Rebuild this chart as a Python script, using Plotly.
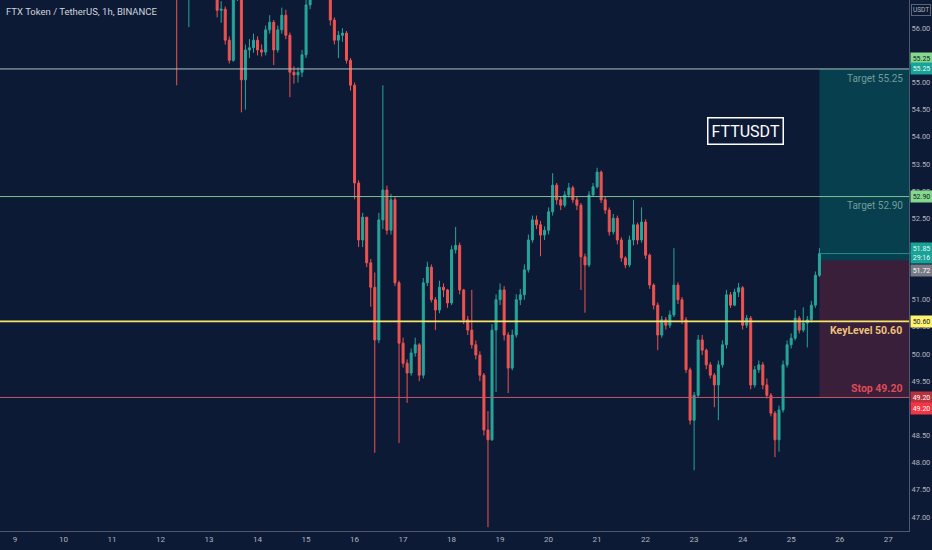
import plotly.graph_objects as go
import pandas as pd

# ---------------- data ----------------
start_time = "2021-09-12 06:00"   # 2-hour candles
first_open = 57.00
closes = [57.20, 56.90, 57.00, 57.10, 57.30, 57.40, 57.20, 57.00, 56.90, 56.80,
          56.70, 56.33, 56.35, 55.78, 55.41, 56.60, 56.70, 55.05, 55.60, 55.64,
          55.78, 55.60, 55.56, 55.97, 56.11, 55.60, 55.97, 56.24, 55.87, 55.19,
          55.14, 55.19, 55.51, 56.43, 56.80, 57.00, 57.10, 57.00, 56.90, 56.15,
          55.78, 55.87, 55.91, 55.41, 54.95, 53.15, 52.10, 52.52, 51.68, 51.23,
          50.26, 52.47, 53.02, 52.28, 52.84, 51.31, 50.20, 49.83, 49.65, 50.02,
          50.17, 49.61, 51.31, 51.60, 51.00, 50.81, 51.23, 51.18, 50.94, 51.92,
          52.00, 51.18, 50.63, 50.44, 50.17, 49.98, 49.61, 48.60, 48.42, 50.44,
          51.00, 51.18, 50.35, 49.74, 50.35, 51.00, 51.09, 51.55, 52.10, 52.47,
          52.38, 52.19, 52.28, 52.62, 53.11, 52.84, 52.74, 52.93, 53.06, 52.84,
          52.74, 51.79, 51.64, 52.93, 53.08, 53.35, 52.84, 52.65, 52.25, 52.50,
          52.10, 51.77, 51.64, 52.10, 52.38, 52.10, 52.43, 51.82, 51.27, 50.90,
          50.35, 50.63, 50.53, 50.72, 51.27, 51.00, 50.63, 49.71, 48.78, 49.24,
          50.26, 50.07, 49.80, 49.61, 49.43, 49.80, 50.17, 51.09, 50.90, 51.14,
          51.22, 50.53, 50.66, 49.43, 49.71, 49.80, 49.43, 49.24, 48.91, 48.42,
          48.97, 49.80, 50.17, 50.29, 50.66, 50.44, 50.57, 50.63, 50.90, 51.45,
          51.85]
highs = [57.45, 57.30, 57.20, 57.30, 57.50, 57.60, 57.50, 57.30, 57.10, 57.00,
         56.90, 56.75, 56.50, 56.40, 55.85, 56.80, 56.90, 56.80, 55.70, 55.80,
         55.90, 55.85, 55.70, 56.05, 56.24, 56.15, 56.05, 56.38, 56.34, 55.92,
         55.30, 55.28, 55.60, 56.55, 57.00, 57.20, 57.30, 57.25, 57.10, 56.95,
         56.20, 55.95, 56.00, 55.95, 55.45, 55.00, 53.20, 52.60, 52.52, 51.75,
         51.50, 52.60, 54.95, 53.10, 52.95, 52.90, 51.35, 50.30, 49.90, 50.10,
         50.30, 50.20, 51.40, 51.70, 51.65, 51.05, 51.35, 51.30, 51.20, 52.00,
         52.34, 52.05, 51.20, 50.70, 51.18, 50.25, 50.05, 49.65, 48.95, 50.55,
         51.10, 51.30, 51.25, 50.40, 50.45, 51.10, 51.20, 51.65, 52.20, 52.55,
         52.55, 52.45, 52.35, 52.70, 53.33, 53.15, 52.90, 53.00, 53.15, 53.10,
         52.90, 52.78, 51.85, 53.00, 53.15, 53.43, 53.38, 52.90, 52.70, 52.58,
         52.55, 52.15, 51.80, 52.18, 52.84, 52.42, 52.70, 52.48, 51.85, 51.30,
         50.95, 50.70, 50.68, 50.80, 51.95, 51.32, 51.05, 50.68, 49.75, 49.30,
         50.35, 50.35, 50.10, 49.85, 49.65, 49.88, 50.25, 51.18, 51.14, 51.20,
         51.31, 51.25, 50.72, 50.70, 49.78, 49.88, 49.85, 49.55, 49.28, 48.95,
         49.05, 49.88, 50.25, 50.38, 50.81, 50.70, 50.86, 50.70, 50.98, 51.52,
         51.95]
lows = [56.90, 54.95, 56.75, 56.85, 56.02, 57.15, 57.05, 56.85, 56.75, 56.65,
        56.55, 56.20, 56.10, 55.70, 55.35, 55.38, 56.50, 54.45, 54.50, 55.45,
        55.55, 55.50, 55.48, 55.50, 55.90, 55.32, 55.55, 55.90, 55.80, 54.73,
        54.98, 55.00, 55.10, 55.45, 56.35, 56.70, 56.90, 56.85, 56.75, 56.05,
        55.70, 55.45, 55.75, 55.35, 54.85, 52.85, 51.97, 51.97, 51.60, 50.87,
        48.18, 50.20, 52.30, 52.20, 52.20, 51.25, 48.36, 49.75, 49.10, 49.60,
        49.95, 49.50, 49.55, 51.25, 50.95, 50.44, 50.75, 51.05, 50.85, 50.90,
        51.85, 51.10, 50.55, 50.35, 50.10, 49.90, 49.50, 48.50, 46.81, 48.40,
        49.30, 50.90, 50.25, 49.28, 49.70, 50.30, 50.90, 51.00, 51.50, 52.05,
        52.30, 51.80, 52.10, 52.20, 52.55, 52.75, 52.65, 52.70, 52.88, 52.78,
        52.65, 51.18, 50.76, 51.60, 52.90, 53.05, 52.78, 52.58, 52.18, 52.20,
        52.02, 51.70, 51.58, 51.60, 52.00, 52.02, 52.05, 51.75, 51.20, 50.82,
        50.07, 50.30, 50.45, 50.48, 50.68, 50.92, 50.55, 49.65, 48.70, 47.86,
        49.20, 49.98, 49.72, 49.55, 49.02, 48.78, 49.75, 50.10, 50.85, 50.88,
        51.05, 50.45, 50.48, 49.35, 49.38, 49.65, 49.35, 49.18, 48.85, 48.10,
        48.20, 48.92, 49.75, 50.10, 50.25, 50.38, 50.40, 50.12, 50.58, 50.85,
        51.42]

target_hi = 55.25
target_lo = 52.90
key_level = 50.60
stop_level = 49.20
entry_level = 51.72
last_price = 51.85
countdown = "29:16"

day_ticks = list(range(9, 28))
y_ticks = [47.0, 47.5, 48.0, 48.5, 49.0, 49.5, 50.0, 50.5, 51.0, 51.5,
           52.0, 52.5, 53.0, 53.5, 54.0, 54.5, 55.0, 55.5, 56.0, 56.5]

# ---------------- build ----------------
times = pd.date_range(start=start_time, periods=len(closes), freq="2h")
opens = [first_open] + closes[:-1]
tick_times = [pd.Timestamp(2021, 9, d) for d in day_ticks]

BG = "#0c1a36"
TXT = "#b2b5be"
UP = "#26a69a"
DN = "#ef5350"

fig = go.Figure()
fig.add_trace(go.Candlestick(
    x=times, open=opens, high=highs, low=lows, close=closes,
    increasing=dict(line=dict(color=UP, width=1), fillcolor=UP),
    decreasing=dict(line=dict(color=DN, width=1), fillcolor=DN),
    whiskerwidth=0, hoverinfo="skip", showlegend=False,
))

x_left = pd.Timestamp("2021-09-08 16:34")
x_right = pd.Timestamp("2021-09-27 10:19")
box_x0 = times[-1]

shapes = []
# position tool boxes
shapes.append(dict(type="rect", xref="x", yref="y", x0=box_x0, x1=x_right,
                   y0=entry_level, y1=target_hi, fillcolor="rgba(0,150,136,0.30)",
                   line=dict(width=0), layer="below"))
shapes.append(dict(type="rect", xref="x", yref="y", x0=box_x0, x1=x_right,
                   y0=stop_level, y1=entry_level, fillcolor="rgba(242,54,69,0.20)",
                   line=dict(width=0), layer="below"))
shapes.append(dict(type="line", xref="x", yref="y", x0=box_x0, x1=x_right,
                   y0=last_price, y1=last_price, line=dict(color="#1f8f86", width=1)))
# horizontal levels
level_styles = [
    (target_hi, "#a9c3bd", 1),
    (target_lo, "#7fbf8e", 1),
    (key_level, "#f5e66a", 1.8),
    (stop_level, "#c9566b", 1),
]
for lv, col, w in level_styles:
    shapes.append(dict(type="line", xref="paper", yref="y", x0=0, x1=1,
                       y0=lv, y1=lv, line=dict(color=col, width=w)))

ann = []
ann.append(dict(text="FTX Token / TetherUS, 1h, BINANCE", xref="paper", yref="paper",
                x=0.004, y=0.978, xanchor="left", yanchor="middle", showarrow=False,
                font=dict(size=9.5, color="#d1d4dc", family="Roboto")))
ann.append(dict(text="FTTUSDT", xref="paper", yref="paper", x=0.8205, y=0.753,
                xanchor="center", yanchor="middle", showarrow=False,
                font=dict(size=16, color="#ffffff", family="Roboto"),
                bordercolor="#ffffff", borderwidth=1.5, borderpad=3))
# in-chart level labels
ann.append(dict(text="Target 55.25", xref="paper", yref="y", x=0.996, y=target_hi,
                xanchor="right", yanchor="top", yshift=-2, showarrow=False,
                font=dict(size=10, color="#6f9d99", family="Roboto")))
ann.append(dict(text="Target 52.90", xref="paper", yref="y", x=0.996, y=target_lo,
                xanchor="right", yanchor="top", yshift=-1, showarrow=False,
                font=dict(size=10, color="#6f9d99", family="Roboto")))
ann.append(dict(text="<b>KeyLevel 50.60</b>", xref="paper", yref="y", x=0.995, y=key_level,
                xanchor="right", yanchor="top", yshift=-1, showarrow=False,
                font=dict(size=10.5, color="#efc27c", family="Roboto")))
ann.append(dict(text="<b>Stop 49.20</b>", xref="paper", yref="y", x=0.995, y=stop_level,
                xanchor="right", yanchor="bottom", yshift=0, showarrow=False,
                font=dict(size=10.5, color="#df4b57", family="Roboto")))

# right-axis price labels
def axis_label(txt, y, bg, fg, shift=0):
    ann.append(dict(text=txt, xref="paper", yref="y", x=1, y=y, xanchor="left",
                    yanchor="middle", xshift=1, yshift=shift, showarrow=False,
                    bgcolor=bg, font=dict(size=7, color=fg, family="Roboto"),
                    borderpad=1, width=19, height=9, align="center"))

axis_label("55.25", target_hi, "#86d98b", "#0c1a36", shift=10)
axis_label("55.25", target_hi, "#17a398", "#e8f5f3")
axis_label("52.90", target_lo, "#86d98b", "#0c1a36")
axis_label(f"{last_price:.2f}", last_price, "#17a398", "#e8f5f3", shift=5)
axis_label(countdown, last_price, "#17a398", "#e8f5f3", shift=-4)
axis_label(f"{entry_level:.2f}", entry_level, "#787b86", "#ffffff", shift=-10)
axis_label("50.60", key_level, "#fff36e", "#0c1a36")
axis_label("49.20", stop_level, "#b8323d", "#ffffff")
axis_label("49.20", stop_level, "#f23645", "#ffffff", shift=-11)
ann.append(dict(text="USDT", xref="paper", yref="paper", x=1, y=0.982, xanchor="left",
                yanchor="middle", xshift=2, showarrow=False, bgcolor=BG,
                bordercolor="#5d6473", borderwidth=1, borderpad=1,
                font=dict(size=6.5, color=TXT, family="Roboto")))

fig.update_layout(
    width=932, height=550,
    margin=dict(l=0, r=23, t=0, b=19),
    paper_bgcolor=BG, plot_bgcolor=BG,
    shapes=shapes, annotations=ann,
    showlegend=False, hovermode=False,
    xaxis=dict(type="date", range=[x_left, x_right], rangeslider=dict(visible=False),
               tickvals=tick_times, ticktext=[str(d) for d in day_ticks],
               showgrid=False, zeroline=False, showline=True, linecolor="#4e5870",
               linewidth=1, ticks="", tickfont=dict(size=8, color=TXT, family="Roboto"),
               automargin=False, fixedrange=True),
    yaxis=dict(side="right", range=[46.74, 56.52], tickvals=y_ticks,
               ticktext=[f"{v:.2f}" for v in y_ticks],
               showgrid=False, zeroline=False, showline=True, linecolor="#4e5870",
               linewidth=1, ticks="", tickfont=dict(size=7.5, color=TXT, family="Roboto"),
               automargin=False, fixedrange=True),
)

fig.write_html("out.html", config={"displayModeBar": False},
               post_script="document.body.style.margin='0';document.body.style.overflow='hidden';document.body.style.background='#0c1a36';")
